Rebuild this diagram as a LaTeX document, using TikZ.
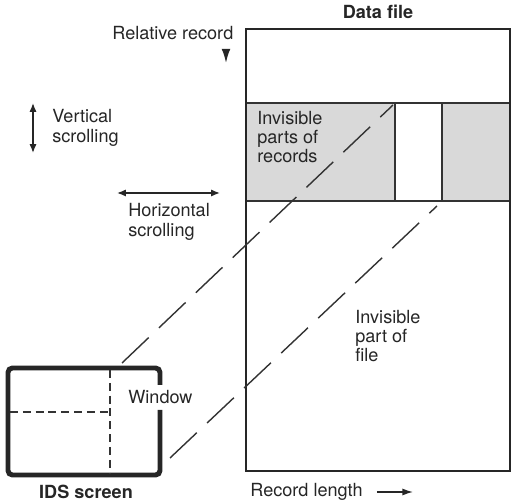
\documentclass[tikz,border=0pt]{standalone}
\usepackage{fontspec}
\setmainfont{TeX Gyre Heros}
\usetikzlibrary{positioning,arrows.meta}

\begin{document}
\begin{tikzpicture}[x=0.02cm,y=-0.02cm,
  txt/.style={align=left,inner sep=0pt,text=black!85,font=\fontsize{10.3}{11}\selectfont},
  title/.style={inner sep=0pt,text=black!85,font=\fontsize{10.3}{11}\selectfont\bfseries},
  scroll/.style={{Latex[length=5pt,width=4pt]}-{Latex[length=5pt,width=4pt]},line width=0.8pt,black!85},
  proj/.style={line width=0.8pt,black!80,dash pattern=on 21pt off 8pt},
  grid/.style={line width=0.6pt,black!80,dash pattern=on 4.5pt off 2.8pt}]
  \useasboundingbox (0,0) rectangle (512,500);

  % data file with the record band
  \fill[black!15] (247,103) rectangle (395,201);
  \fill[black!15] (442,103) rectangle (510,201);
  \draw[line width=0.7pt,black!80] (247,103) -- (510,103) (247,201) -- (510,201)
    (395,103) -- (395,201) (442,103) -- (442,201);
  \draw[line width=1.3pt,black!85] (246,29) rectangle (510,471);

  % IDS screen
  \draw[line width=2.8pt,black!85,rounded corners=2.5pt] (160,385) -- (160,368) -- (8,368)
    -- (8,475) -- (160,475) -- (160,410);
  \draw[grid] (110,370) -- (110,473);
  \draw[grid] (10,412) -- (110,412);

  % projection of the window
  \coordinate (winT) at (122,363);
  \coordinate (winB) at (170,458);
  \coordinate (colT) at (393,105);
  \coordinate (colB) at (437,206);
  \draw[proj] (winT) -- (colT);
  \draw[proj] (winB) -- (colB);

  \node[title] (datafile) at (378,12) {Data file};
  \node[title] (screen) at (86,492) {IDS screen};
  \node[txt,anchor=west] (window) at (128,397) {Window};

  \node[txt,anchor=west] (relrec) at (112,33) {Relative record};
  \coordinate (relA) at (226,52);
  \coordinate (relB) at (226,63);
  \draw[-{Latex[length=8pt,width=5pt]},line width=1pt,black!85] (relA) -- (relB);

  \node[txt,anchor=west] (vscroll) at (52,128) {Vertical\\scrolling};
  \coordinate (vUp) at (33,103);
  \coordinate (vDown) at (33,153);
  \draw[scroll] (vUp) -- (vDown);

  \coordinate (hLeft) at (117,193);
  \coordinate (hRight) at (220,193);
  \draw[scroll] (hLeft) -- (hRight);
  \node[txt,anchor=west] (hscroll) at (128,222) {Horizontal\\scrolling};

  \node[txt,anchor=west] (invrec) at (257,137) {Invisible\\parts of\\records};
  \node[txt,anchor=west] (invfile) at (355,336) {Invisible\\part of\\file};

  \node[txt,anchor=west] (reclen) at (250,492) {Record length};
  \coordinate (lenA) at (377,492);
  \coordinate (lenB) at (413,492);
  \draw[-{Latex[length=6pt,width=4pt]},line width=0.8pt,black!85] (lenA) -- (lenB);
\end{tikzpicture}
\end{document}
